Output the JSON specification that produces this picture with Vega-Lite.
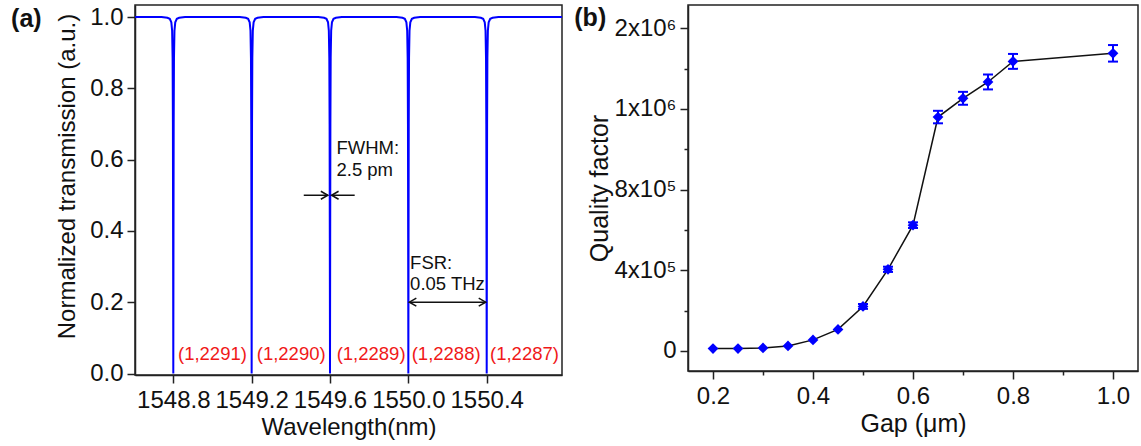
{
  "$schema": "https://vega.github.io/schema/vega-lite/v6.json",
  "padding": {"left": 10, "top": 4, "right": 0, "bottom": 0},
  "background": "white",
  "spacing": 10,
  "config": {
    "view": {"stroke": "#222222", "strokeWidth": 1.5},
    "axis": {
      "domainColor": "#222222", "domainWidth": 1.5,
      "tickColor": "#222222", "tickWidth": 1.5,
      "labelFont": "Liberation Sans", "titleFont": "Liberation Sans",
      "labelFontSize": 24, "titleFontSize": 24,
      "labelColor": "#111111", "titleColor": "#111111",
      "titleFontWeight": "normal", "grid": false,
      "labelPadding": 4
    },
    "text": {"font": "Liberation Sans"}
  },
  "hconcat": [
    {
      "width": 427,
      "height": 370,
      "layer": [
        {
          "data": {"values": [
            {"w": 1548.605, "t": 1.0},
            {"w": 1548.74, "t": 1.0}, {"w": 1548.77, "t": 0.998}, {"w": 1548.782, "t": 0.995}, {"w": 1548.79, "t": 0.985}, {"w": 1548.794, "t": 0.962}, {"w": 1548.7965, "t": 0.885}, {"w": 1548.798, "t": 0.70}, {"w": 1548.799, "t": 0.38}, {"w": 1548.8, "t": 0.0}, {"w": 1548.801, "t": 0.38}, {"w": 1548.802, "t": 0.70}, {"w": 1548.8035, "t": 0.885}, {"w": 1548.806, "t": 0.962}, {"w": 1548.81, "t": 0.985}, {"w": 1548.818, "t": 0.995}, {"w": 1548.83, "t": 0.998}, {"w": 1548.86, "t": 1.0},
            {"w": 1549.14, "t": 1.0}, {"w": 1549.17, "t": 0.998}, {"w": 1549.182, "t": 0.995}, {"w": 1549.19, "t": 0.985}, {"w": 1549.194, "t": 0.962}, {"w": 1549.1965, "t": 0.885}, {"w": 1549.198, "t": 0.70}, {"w": 1549.199, "t": 0.38}, {"w": 1549.2, "t": 0.0}, {"w": 1549.201, "t": 0.38}, {"w": 1549.202, "t": 0.70}, {"w": 1549.2035, "t": 0.885}, {"w": 1549.206, "t": 0.962}, {"w": 1549.21, "t": 0.985}, {"w": 1549.218, "t": 0.995}, {"w": 1549.23, "t": 0.998}, {"w": 1549.26, "t": 1.0},
            {"w": 1549.54, "t": 1.0}, {"w": 1549.57, "t": 0.998}, {"w": 1549.582, "t": 0.995}, {"w": 1549.59, "t": 0.985}, {"w": 1549.594, "t": 0.962}, {"w": 1549.5965, "t": 0.885}, {"w": 1549.598, "t": 0.70}, {"w": 1549.599, "t": 0.38}, {"w": 1549.6, "t": 0.0}, {"w": 1549.601, "t": 0.38}, {"w": 1549.602, "t": 0.70}, {"w": 1549.6035, "t": 0.885}, {"w": 1549.606, "t": 0.962}, {"w": 1549.61, "t": 0.985}, {"w": 1549.618, "t": 0.995}, {"w": 1549.63, "t": 0.998}, {"w": 1549.66, "t": 1.0},
            {"w": 1549.94, "t": 1.0}, {"w": 1549.97, "t": 0.998}, {"w": 1549.982, "t": 0.995}, {"w": 1549.99, "t": 0.985}, {"w": 1549.994, "t": 0.962}, {"w": 1549.9965, "t": 0.885}, {"w": 1549.998, "t": 0.70}, {"w": 1549.999, "t": 0.38}, {"w": 1550.0, "t": 0.0}, {"w": 1550.001, "t": 0.38}, {"w": 1550.002, "t": 0.70}, {"w": 1550.0035, "t": 0.885}, {"w": 1550.006, "t": 0.962}, {"w": 1550.01, "t": 0.985}, {"w": 1550.018, "t": 0.995}, {"w": 1550.03, "t": 0.998}, {"w": 1550.06, "t": 1.0},
            {"w": 1550.34, "t": 1.0}, {"w": 1550.37, "t": 0.998}, {"w": 1550.382, "t": 0.995}, {"w": 1550.39, "t": 0.985}, {"w": 1550.394, "t": 0.962}, {"w": 1550.3965, "t": 0.885}, {"w": 1550.398, "t": 0.70}, {"w": 1550.399, "t": 0.38}, {"w": 1550.4, "t": 0.0}, {"w": 1550.401, "t": 0.38}, {"w": 1550.402, "t": 0.70}, {"w": 1550.4035, "t": 0.885}, {"w": 1550.406, "t": 0.962}, {"w": 1550.41, "t": 0.985}, {"w": 1550.418, "t": 0.995}, {"w": 1550.43, "t": 0.998}, {"w": 1550.46, "t": 1.0},
            {"w": 1550.784, "t": 1.0}
          ]},
          "mark": {"type": "line", "color": "#0000ff", "strokeWidth": 2, "clip": true},
          "encoding": {
            "x": {
              "field": "w", "type": "quantitative",
              "scale": {"domain": [1548.6045, 1550.7844], "nice": false, "zero": false},
              "axis": {
                "title": "Wavelength(nm)",
                "values": [1548.8, 1549.2, 1549.6, 1550.0, 1550.4],
                "format": ".1f", "tickSize": 8, "labelPadding": 5, "titlePadding": 3
              }
            },
            "y": {
              "field": "t", "type": "quantitative",
              "scale": {"domain": [-0.0042, 1.0337], "nice": false, "zero": false},
              "axis": {
                "title": "Normalized transmission (a.u.)",
                "values": [0, 0.1, 0.2, 0.3, 0.4, 0.5, 0.6, 0.7, 0.8, 0.9, 1.0],
                "labelExpr": "round(datum.value*10)%2===0 ? format(datum.value,'.1f') : ''",
                "tickSize": {"condition": {"test": "round(datum.value*10)%2===0", "value": 8}, "value": 4},
                "titlePadding": 10,
                "titleY": 171
              }
            }
          }
        },
        {
          "data": {"values": [
            {"x": 1548.824, "y": 0.055, "s": "(1,2291)"},
            {"x": 1549.226, "y": 0.055, "s": "(1,2290)"},
            {"x": 1549.634, "y": 0.055, "s": "(1,2289)"},
            {"x": 1550.017, "y": 0.055, "s": "(1,2288)"},
            {"x": 1550.417, "y": 0.055, "s": "(1,2287)"}
          ]},
          "mark": {"type": "text", "align": "left", "baseline": "middle", "fontSize": 18.5, "color": "#f01818"},
          "encoding": {
            "x": {"field": "x", "type": "quantitative"},
            "y": {"field": "y", "type": "quantitative"},
            "text": {"field": "s"}
          }
        },
        {
          "data": {"values": [
            {"x": 1549.633, "y": 0.633, "s": "FWHM:"},
            {"x": 1549.633, "y": 0.570, "s": "2.5 pm"},
            {"x": 1550.009, "y": 0.311, "s": "FSR:"},
            {"x": 1550.009, "y": 0.250, "s": "0.05 THz"}
          ]},
          "mark": {"type": "text", "align": "left", "baseline": "middle", "fontSize": 18.5, "color": "#111111"},
          "encoding": {
            "x": {"field": "x", "type": "quantitative"},
            "y": {"field": "y", "type": "quantitative"},
            "text": {"field": "s"}
          }
        },
        {
          "data": {"values": [
            {"x": 1549.466, "x2": 1549.589, "y": 0.5},
            {"x": 1549.608, "x2": 1549.726, "y": 0.5},
            {"x": 1550.005, "x2": 1550.395, "y": 0.2}
          ]},
          "mark": {"type": "rule", "color": "#111111", "strokeWidth": 1.5},
          "encoding": {
            "x": {"field": "x", "type": "quantitative"},
            "x2": {"field": "x2"},
            "y": {"field": "y", "type": "quantitative"}
          }
        },
        {
          "data": {"values": [
            {"x": 1549.589, "y": 0.5},
            {"x": 1550.395, "y": 0.2}
          ]},
          "mark": {"type": "point", "shape": "M-1.75,-1L0,0L-1.75,1", "filled": false, "size": 64, "stroke": "#111111", "strokeWidth": 1.5, "opacity": 1},
          "encoding": {
            "x": {"field": "x", "type": "quantitative"},
            "y": {"field": "y", "type": "quantitative"}
          }
        },
        {
          "data": {"values": [
            {"x": 1549.608, "y": 0.5},
            {"x": 1550.005, "y": 0.2}
          ]},
          "mark": {"type": "point", "shape": "M1.75,-1L0,0L1.75,1", "filled": false, "size": 64, "stroke": "#111111", "strokeWidth": 1.5, "opacity": 1},
          "encoding": {
            "x": {"field": "x", "type": "quantitative"},
            "y": {"field": "y", "type": "quantitative"}
          }
        },
        {
          "data": {"values": [{"x": 1548.05, "y": 0.9935, "s": "(a)"}]},
          "mark": {"type": "text", "align": "center", "baseline": "middle", "fontSize": 25, "fontWeight": "bold", "color": "#111111"},
          "encoding": {
            "x": {"field": "x", "type": "quantitative"},
            "y": {"field": "y", "type": "quantitative"},
            "text": {"field": "s"}
          }
        }
      ]
    },
    {
      "width": 450,
      "height": 366,
      "data": {"values": [
        {"gap": 0.2, "q": 12000},
        {"gap": 0.25, "q": 12000},
        {"gap": 0.3, "q": 15000},
        {"gap": 0.35, "q": 25000},
        {"gap": 0.4, "q": 55000},
        {"gap": 0.45, "q": 107000},
        {"gap": 0.5, "q": 221000, "lo": 209000, "hi": 233000},
        {"gap": 0.55, "q": 405000, "lo": 392000, "hi": 418000},
        {"gap": 0.6, "q": 624000, "lo": 610000, "hi": 638000},
        {"gap": 0.65, "q": 1160000, "lo": 1129000, "hi": 1191000},
        {"gap": 0.7, "q": 1253000, "lo": 1221000, "hi": 1285000},
        {"gap": 0.75, "q": 1334000, "lo": 1297000, "hi": 1371000},
        {"gap": 0.8, "q": 1436000, "lo": 1399000, "hi": 1473000},
        {"gap": 1.0, "q": 1476000, "lo": 1435000, "hi": 1517000}
      ]},
      "layer": [
        {
          "mark": {"type": "line", "color": "#111111", "strokeWidth": 1.5},
          "encoding": {
            "x": {
              "field": "gap", "type": "quantitative",
              "scale": {"domain": [0.15, 1.05], "nice": false, "zero": false},
              "axis": {
                "title": "Gap (μm)",
                "values": [0.2, 0.3, 0.4, 0.5, 0.6, 0.7, 0.8, 0.9, 1.0],
                "labelExpr": "round(datum.value*10)%2===0 ? format(datum.value,'.1f') : ''",
                "tickSize": {"condition": {"test": "round(datum.value*10)%2===0", "value": 8}, "value": 4},
                "labelPadding": 5,
                "titlePadding": 3,
                "titleFontSize": 25
              }
            },
            "y": {
              "field": "q", "type": "quantitative",
              "scale": {"domain": [-99170, 1715630], "nice": false, "zero": false},
              "axis": {
                "title": "Quality factor",
                "values": [0, 200000, 400000, 600000, 800000, 1000000, 1200000, 1400000, 1600000],
                "labelExpr": "datum.value==0 ? '0' : datum.value==400000 ? '4x10⁵' : datum.value==800000 ? '8x10⁵' : datum.value==1200000 ? '1x10⁶' : datum.value==1600000 ? '2x10⁶' : ''",
                "tickSize": {"condition": {"test": "round(datum.value/200000)%2===0", "value": 8}, "value": 4},
                "titlePadding": 2,
                "titleFontSize": 25
              }
            }
          }
        },
        {
          "transform": [{"filter": "datum.hi > datum.lo"}],
          "mark": {"type": "rule", "color": "#0000ff", "strokeWidth": 2},
          "encoding": {
            "x": {"field": "gap", "type": "quantitative"},
            "y": {"field": "lo", "type": "quantitative", "title": "Quality factor"},
            "y2": {"field": "hi"}
          }
        },
        {
          "transform": [{"filter": "datum.hi > datum.lo"}],
          "mark": {"type": "tick", "orient": "horizontal", "color": "#0000ff", "size": 10, "thickness": 2, "opacity": 1},
          "encoding": {
            "x": {"field": "gap", "type": "quantitative"},
            "y": {"field": "lo", "type": "quantitative", "title": "Quality factor"}
          }
        },
        {
          "transform": [{"filter": "datum.hi > datum.lo"}],
          "mark": {"type": "tick", "orient": "horizontal", "color": "#0000ff", "size": 10, "thickness": 2, "opacity": 1},
          "encoding": {
            "x": {"field": "gap", "type": "quantitative"},
            "y": {"field": "hi", "type": "quantitative", "title": "Quality factor"}
          }
        },
        {
          "mark": {"type": "point", "shape": "diamond", "filled": true, "size": 115, "color": "#0000ff", "opacity": 1},
          "encoding": {
            "x": {"field": "gap", "type": "quantitative"},
            "y": {"field": "q", "type": "quantitative"}
          }
        },
        {
          "data": {"values": [{"x": -0.0455, "y": 1652600, "s": "(b)"}]},
          "mark": {"type": "text", "align": "center", "baseline": "middle", "fontSize": 25, "fontWeight": "bold", "color": "#111111"},
          "encoding": {
            "x": {"field": "x", "type": "quantitative"},
            "y": {"field": "y", "type": "quantitative"},
            "text": {"field": "s"}
          }
        }
      ]
    }
  ]
}
